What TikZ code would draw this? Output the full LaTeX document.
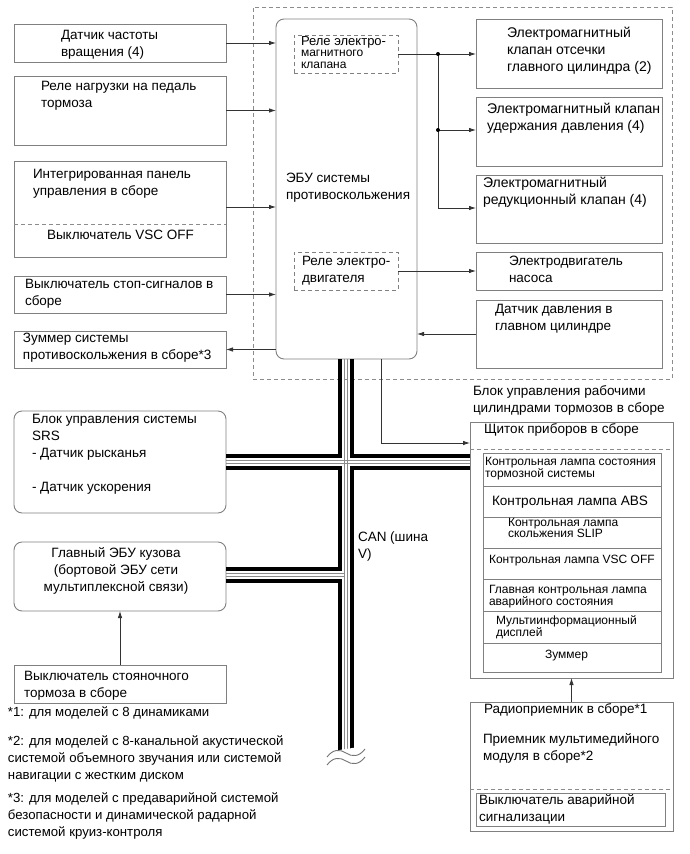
\documentclass[tikz,border=0pt]{standalone}
\usepackage{fontspec}
\setmainfont{Liberation Sans}
\usetikzlibrary{arrows.meta}
\newcommand\fl{\rule{0pt}{14pt}}
\begin{document}
\begin{tikzpicture}[x=1pt,y=-1pt,
  box/.style={draw=black!50, line width=0.9pt, anchor=north west, inner sep=0pt, outer sep=0pt},
  rbox/.style={box, rounded corners=8pt},
  dbox/.style={box, dash pattern=on 4pt off 3pt},
  dline/.style={draw=black!45, line width=0.8pt, dash pattern=on 4pt off 3pt},
  t/.style={anchor=north west, inner sep=0pt, outer sep=0pt, align=left, font=\fontsize{13.5}{17}\selectfont},
  tc/.style={t, anchor=north, align=center},
  ts/.style={t, font=\fontsize{12}{11}\selectfont},
  arr/.style={draw=black!80, line width=0.8pt, -{Latex[length=7pt,width=4.5pt]}},
  bk/.style={draw=black, line width=3.8pt, line join=miter},
  gy/.style={draw=black!45, line width=0.8pt},
  wave/.style={draw=black!55, line width=0.9pt},
  dot/.style={circle, fill=black, inner sep=0pt, minimum size=4pt}
]
\useasboundingbox (0,0) rectangle (690,854);

% outer dashed block
\node[dbox, draw=black!45, line width=0.8pt, minimum width=419pt, minimum height=372pt] (OB) at (253,7) {};

% left inputs
\node[box, minimum width=212pt, minimum height=38pt] (L1) at (14,24) {};
\node[box, minimum width=212pt, minimum height=69pt] (L2) at (14,76) {};
\node[box, minimum width=212pt, minimum height=96pt] (L3) at (14,161) {};
\draw[dline] (14,224) -- (226,224);
\node[box, minimum width=212pt, minimum height=37pt] (L4) at (14,276) {};
\node[box, minimum width=212pt, minimum height=37pt] (L5) at (14,331) {};

% ECU
\node[rbox, minimum width=141pt, minimum height=340pt] (ECU) at (276,19) {};
\node[dbox, minimum width=104pt, minimum height=38pt] (R1) at (294,35) {};
\node[dbox, minimum width=104pt, minimum height=38pt] (R2) at (294,252) {};

% right outputs
\node[box, minimum width=186pt, minimum height=69pt] (A) at (476,19) {};
\node[box, minimum width=186pt, minimum height=69pt] (B) at (476,97) {};
\node[box, minimum width=186pt, minimum height=68pt] (C) at (476,175) {};
\node[box, minimum width=186pt, minimum height=38pt] (D) at (476,252) {};
\node[box, minimum width=186pt, minimum height=68pt] (E) at (476,300) {};

% lower left
\node[rbox, minimum width=212pt, minimum height=102pt] (SRS) at (14,411) {};
\node[rbox, minimum width=212pt, minimum height=69pt] (BODY) at (14,542) {};
\node[box, minimum width=212pt, minimum height=38pt] (PARK) at (14,665) {};

% instrument panel
\node[box, minimum width=203pt, minimum height=256pt] (P) at (470,422) {};
\draw[dline] (470,449) -- (673,449);
\node[box, minimum width=178pt, minimum height=219pt] (PI) at (483,453) {};
\foreach \yy in {486,517,548,579,611,643}
  \draw[draw=black!50, line width=0.9pt] (483,\yy) -- (661,\yy);

% radio
\node[box, minimum width=203pt, minimum height=129pt] (RAD) at (470,702) {};
\draw[dline] (470,789) -- (673,789);
\node[box, minimum width=189pt, minimum height=33pt] (HAZ) at (476,793) {};

% texts
\node[t] (tL1) at (61,25) {\fl Датчик частоты\\вращения (4)};
\node[t] (tL2) at (41,76) {\fl Реле нагрузки на педаль\\тормоза};
\node[t] (tL3) at (33,164) {\fl Интегрированная панель\\управления в сборе};
\node[t] (tL3b) at (47,225) {\fl Выключатель VSC OFF};
\node[t] (tL4) at (25,274) {\fl Выключатель стоп-сигналов в\\сборе};
\node[t] (tL5) at (23,328) {\fl Зуммер системы\\противоскольжения в сборе*3};
\node[t] (tECU) at (286,168) {\fl ЭБУ системы\\противоскольжения};
\node[t, font=\fontsize{13}{17}\selectfont] (tR1a) at (301,31) {\fl Реле электро-};
\node[t, font=\fontsize{12}{11.5}\selectfont] (tR1b) at (301,42.5) {\fl магнитного\\клапана};
\node[t, font=\fontsize{13.5}{17}\selectfont] (tR2) at (302,251) {\fl Реле электро-\\двигателя};
\node[t, font=\fontsize{14}{17}\selectfont] (tA) at (507,23) {\fl Электромагнитный\\клапан отсечки\\главного цилиндра (2)};
\node[t, font=\fontsize{14}{17}\selectfont] (tB) at (487,99) {\fl Электромагнитный клапан\\удержания давления (4)};
\node[t, font=\fontsize{14}{17}\selectfont] (tC) at (483,173) {\fl Электромагнитный\\редукционный клапан (4)};
\node[t] (tD) at (509,251) {\fl Электродвигатель\\насоса};
\node[t] (tE) at (495,299) {\fl Датчик давления в\\главном цилиндре};
\node[t] (tOB) at (473,381) {\fl Блок управления рабочими\\цилиндрами тормозов в сборе};
\node[t] (tSRS) at (32,409) {\fl Блок управления системы\\SRS\\- Датчик рысканья\\\mbox{}\\- Датчик ускорения};
\node[tc] (tBODY) at (116,543) {\fl Главный ЭБУ кузова\\(бортовой ЭБУ сети\\мультиплексной связи)};
\node[t] (tPARK) at (24,666) {\fl Выключатель стояночного\\тормоза в сборе};
\node[t, font=\fontsize{13.2}{17}\selectfont] (tN1) at (8,702) {\fl *1: для моделей с 8 динамиками};
\node[t, font=\fontsize{13.2}{17}\selectfont] (tN2) at (8,731) {\fl *2: для моделей с 8-канальной акустической\\системой объемного звучания или системой\\навигации с жестким диском};
\node[t, font=\fontsize{13.2}{17}\selectfont] (tN3) at (8,788) {\fl *3: для моделей с предаварийной системой\\безопасности и динамической радарной\\системой круиз-контроля};
\node[t] (tCAN) at (358,527) {\fl CAN (шина\\V)};
\node[t] (tP) at (484,419) {\fl Щиток приборов в сборе};
\node[ts] (tP1) at (485,451) {\fl Контрольная лампа состояния\\тормозной системы};
\node[t, font=\fontsize{13.6}{17}\selectfont] (tP2) at (492,491) {\fl Контрольная лампа ABS};
\node[ts] (tP3) at (508,512) {\fl Контрольная лампа\\скольжения SLIP};
\node[ts] (tP4) at (489,549) {\fl Контрольная лампа VSC OFF};
\node[ts] (tP5) at (489,579) {\fl Главная контрольная лампа\\аварийного состояния};
\node[ts] (tP6) at (496,610) {\fl Мультиинформационный\\дисплей};
\node[ts] (tP7) at (545,644) {\fl Зуммер};
\node[t] (tRAD1) at (484,699) {\fl Радиоприемник в сборе*1};
\node[t] (tRAD2) at (483,729) {\fl Приемник мультимедийного\\модуля в сборе*2};
\node[t] (tHAZ) at (479,790) {\fl Выключатель аварийной\\сигнализации};

% connectors
\draw[arr] (L1.east) -- (L1.east -| ECU.west);
\draw[arr] (L2.east) -- (L2.east -| ECU.west);
\draw[arr] ([yshift=2pt]L3.east) -- ([yshift=2pt]L3.east -| ECU.west);
\draw[arr] (L4.east) -- (L4.east -| ECU.west);
\draw[arr] (L5.east -| ECU.west) -- (L5.east);
\draw[arr] (E.west) -- (E.west -| ECU.east);
\coordinate (j1) at (438,54);
\coordinate (j2) at (438,130);
\coordinate (j3) at (438,208);
\draw[draw=black!80, line width=0.8pt] (R1.east) -- (j1) -- (j3);
\draw[arr] (j1) -- (j1 -| A.west);
\draw[arr] (j2) -- (j2 -| B.west);
\draw[arr] (j3) -- (j3 -| C.west);
\node[dot] (d1) at (j1) {};
\node[dot] (d2) at (j2) {};
\draw[arr] (R2.east) -- (R2.east -| D.west);
\draw[arr] ([xshift=34.5pt]ECU.south) |- ([yshift=-21pt]P.north west);
\draw[arr] (PARK.north) -- (BODY.south);
\draw[arr] (RAD.north) -- (P.south);

% CAN bus
\draw[bk] (340,359) -- (340,456) -- (226,456);
\draw[bk] (352,359) -- (352,456) -- (470,456);
\draw[bk] (226,468) -- (340,468) -- (340,569) -- (226,569);
\draw[bk] (226,581) -- (340,581) -- (340,752);
\draw[bk] (470,468) -- (352,468) -- (352,752);
\draw[gy] (344.5,359) -- (344.5,752);
\draw[gy] (347.5,359) -- (347.5,752);
\draw[gy] (226,460.5) -- (470,460.5);
\draw[gy] (226,463.5) -- (470,463.5);
\draw[gy] (226,573.5) -- (344.5,573.5);
\draw[gy] (226,576.5) -- (344.5,576.5);
\fill[white] (327,752) -- (365,746) -- (365,762) -- (327,762) -- cycle;
\draw[wave] (327,757) .. controls (333,749) and (340,749) .. (346,753) .. controls (352,757) and (359,757) .. (365,749);
\draw[wave] (327,765) .. controls (333,757) and (340,757) .. (346,761) .. controls (352,765) and (359,765) .. (365,757);
\end{tikzpicture}
\end{document}
